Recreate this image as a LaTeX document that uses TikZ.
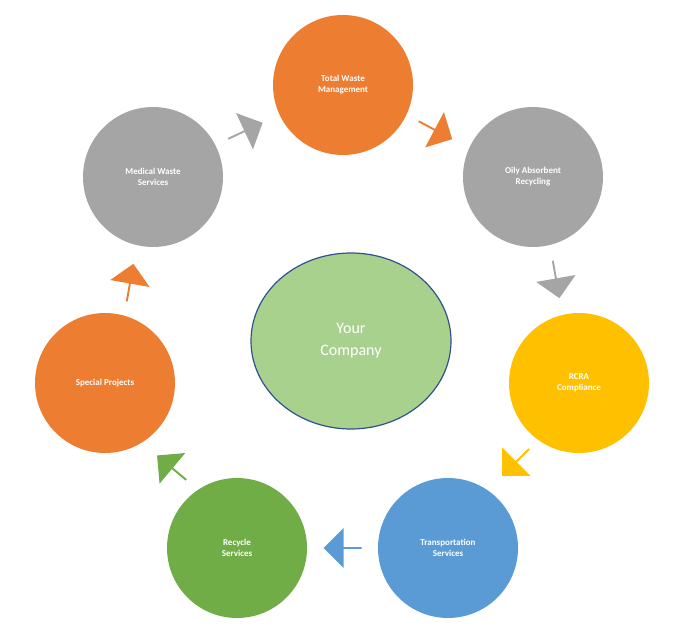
\documentclass[tikz,border=0pt]{standalone}
\usepackage{fontspec}
\setmainfont{Carlito}
\usetikzlibrary{shapes.arrows,shapes.geometric}
\definecolor{wOrange}{HTML}{ED7D31}
\definecolor{wGray}{HTML}{A5A5A5}
\definecolor{wYellow}{HTML}{FFC000}
\definecolor{wBlue}{HTML}{5B9BD5}
\definecolor{wGreen}{HTML}{70AD47}
\definecolor{wLight}{HTML}{A9D18E}
\definecolor{wEdge}{HTML}{2F528F}
\begin{document}
\begin{tikzpicture}[x=1pt,y=-1pt,
  stage/.style={circle,minimum size=140pt,text=white,font=\bfseries\fontsize{9}{11}\selectfont,align=center},
  blockarrow/.style={single arrow,minimum width=40pt,minimum height=38pt,single arrow head extend=4pt,inner sep=0pt}]
  \useasboundingbox (0,0) rectangle (683,631);
  \node[stage,fill=wOrange] (total) at (343,85) {Total Waste\\Management};
  \node[stage,fill=wGray] (oily) at (533,177) {Oily Absorbent\\Recycling};
  \node[stage,fill=wYellow] (rcra) at (579,383) {RCRA\\Compliance};
  \node[stage,fill=wBlue] (trans) at (448,548) {Transportation\\Services};
  \node[stage,fill=wGreen] (recycle) at (237,548) {Recycle\\Services};
  \node[stage,fill=wOrange] (special) at (105,383) {Special Projects};
  \node[stage,fill=wGray] (medical) at (153,177) {Medical Waste\\Services};
  \node[ellipse,minimum width=200pt,minimum height=176pt,fill=wLight,draw=wEdge,line width=1.2pt,
    text=white,font=\fontsize{16}{22}\selectfont,align=center] (company) at (351,341) {Your\\Company};

  % arrows between the stages
  \node[blockarrow,fill=wGray,rotate=25] (a1) at (245,131) {};
  \node[blockarrow,fill=wOrange,rotate=-28] (a2) at (435,130) {};
  \node[blockarrow,fill=wGray,rotate=-80] (a3) at (556,279) {};
  \node[blockarrow,fill=wYellow,rotate=-135] (a4) at (516,462) {};
  \node[blockarrow,fill=wBlue,rotate=180] (a5) at (343,548) {};
  \node[blockarrow,fill=wGreen,rotate=140] (a6) at (172,468) {};
  \node[blockarrow,fill=wOrange,rotate=80] (a7) at (130,283) {};
\end{tikzpicture}
\end{document}
